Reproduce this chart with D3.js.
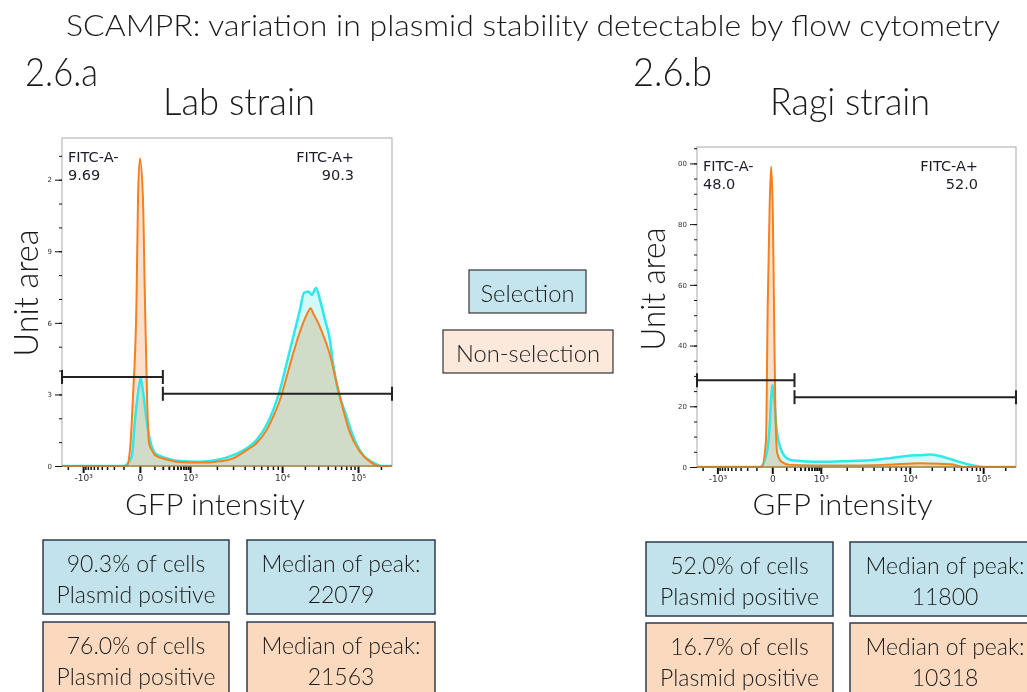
<!DOCTYPE html>
<html>
<head>
<meta charset="utf-8">
<script src="https://cdn.jsdelivr.net/npm/d3@7"></script>
<style>
  body { margin: 0; background: #fff; }
  svg { display: block; }
  .big { font-family: Lato, "Open Sans", sans-serif; font-weight: 300; fill: #1a1a1a; }
  .fitc { font-family: "DejaVu Sans", sans-serif; font-size: 14.5px; fill: #1b1b2a; }
  .axis text { font-family: "DejaVu Sans", sans-serif; font-size: 9px; fill: #333; }
  .axis path { display: none; }
  .axis line { stroke: #111; }
  .fill { mix-blend-mode: multiply; }
</style>
</head>
<body>
<svg id="fig" width="1027" height="692"></svg>
<script>
// ---- data ----
const panelIds = ['2.6.a', '2.6.b'];
const strainNames = ['Lab strain', 'Ragi strain'];
const gateNegPct = ['9.69', '48.0'];
const gatePosPct = ['90.3', '52.0'];
const selPositive = ['90.3%', '52.0%'];
const nonSelPositive = ['76.0%', '16.7%'];
const selMedian = ['22079', '11800'];
const nonSelMedian = ['21563', '10318'];
const gateSplit = 200;
const gateLevels = [[28.6, 23.2], [28.6, 23.0]];
const yTickVals = [[0, 23, 46, 69, 92], [0, 20, 40, 60, 80, 100]];
const yMinorStep = [23 / 3, 5];
const xMajorTicks = [-1000, 0, 1000, 10000, 100000];
const xTickLabels = ['-10³', '0', '10³', '10⁴', '10⁵'];

// [GFP intensity, unit area]
const labSel = [[-2600,0],[-101,0],[-41,3],[-23,14.8],[-6.3,24.4],[3.8,28.2],[17.1,23.5],[37.7,14.8],[61.4,8.4],[88.8,5.1],[106,4.1],[259,2.5],[480,1.7],[1297,1.4],[1990,1.9],[3015,3.5],[4201,5.7],[5374,8.4],[6863,13.2],[8063,18],[9490,24.4],[11495,33],[14058,41.6],[17231,50.2],[19440,55.6],[22190,56.1],[24560,55],[28020,57.2],[31600,53.4],[36800,47],[42750,40.5],[46940,33],[54600,24.4],[71000,15.9],[86780,9.4],[116300,3.5],[158000,1.1],[204500,0],[280000,0]];
const labNonSel = [[-2600,0],[-75,0],[-52,5.1],[-34,22.2],[-15,54.4],[-8,86.5],[0,98.8],[15.5,86.5],[27,54.4],[41,22.2],[54.5,7.4],[87,4.5],[106,3.5],[259,2.1],[480,1.4],[1297,1.1],[1990,1.4],[3015,2.5],[4201,5.1],[5374,7.4],[6863,11.6],[8063,15.9],[9490,21.2],[11495,28.7],[14058,36.3],[17231,43.2],[21114,48.6],[23826,50.7],[26000,48.8],[28600,47],[34940,42],[42750,35.7],[52380,26.7],[64000,18],[78430,10.6],[106100,4.6],[143500,1.4],[194400,0],[280000,0]];
const ragiSel = [[-2600,0],[-71,0],[-27.8,4.5],[-12.3,13.3],[-5.4,22],[2.1,27],[10.5,22],[24.3,12.2],[46.5,6.7],[87.6,3.4],[161,2.2],[293,2.0],[1069,1.7],[2175,2.0],[3970,2.3],[6066,2.9],[9272,3.6],[13800,3.9],[18900,4.1],[25880,3.6],[39250,2.3],[59740,1.0],[90600,0.1],[100000,0],[280000,0]];
const ragiNonSel = [[-2600,0],[-59,0],[-31.6,8.9],[-22.2,52.7],[-12.3,85.6],[-5.4,99],[2.1,85.6],[8.9,52.7],[16.1,19.8],[28,4.5],[59,1.7],[140,0.7],[1674,0.5],[5080,0.7],[7812,1.0],[13790,1.2],[25880,1.1],[38870,0.8],[48430,0.2],[60300,0],[280000,0]];

const selSeries = [labSel, ragiSel];
const nonSelSeries = [labNonSel, ragiNonSel];

// ---- layout ----
const frames = [
    { x0: 62, x1: 392, y0: 138, y1: 466, labelClip: 47, gfpY: 515 },
    { x0: 697, x1: 1016, y0: 147, y1: 467, labelClip: 678, gfpY: 515 }
];
// where the biexponential display puts the major decades (fraction of width)
const xTickFrac = [0.064, 0.236, 0.388, 0.667, 0.897];
const yTop = 105.4;

const svg = d3.select('#fig');

function bigText(x, y, size, str, anchor, len) {
    const t = svg.append('text').attr('class', 'big')
        .attr('x', x).attr('y', y)
        .attr('font-size', size)
        .attr('text-anchor', anchor || 'start')
        .text(str);
    if (len) t.attr('textLength', len).attr('lengthAdjust', 'spacingAndGlyphs');
    return t;
}

bigText(533, 36, 30, 'SCAMPR: variation in plasmid stability detectable by flow cytometry', 'middle', 934);

function buildPanel(i) {
    const fr = frames[i];
    const w = fr.x1 - fr.x0;
    const x = d3.scaleSymlog().constant(100)
        .domain(xMajorTicks)
        .range(xTickFrac.map(f => fr.x0 + f * w));
    const y = d3.scaleLinear().domain([0, yTop]).range([fr.y1, fr.y0]);

    const clipId = 'clip' + i;
    svg.append('clipPath').attr('id', clipId)
        .append('rect').attr('x', fr.x0).attr('y', fr.y0)
        .attr('width', w).attr('height', fr.y1 - fr.y0 + 1);
    const lblClip = 'lbl' + i;
    svg.append('clipPath').attr('id', lblClip)
        .append('rect').attr('x', fr.labelClip).attr('y', fr.y0 - 20)
        .attr('width', fr.x0 - fr.labelClip + 2).attr('height', fr.y1 - fr.y0 + 40);

    // frame
    svg.append('rect')
        .attr('x', fr.x0).attr('y', fr.y0)
        .attr('width', w).attr('height', fr.y1 - fr.y0)
        .attr('fill', 'none').attr('stroke', '#a8a8a8').attr('stroke-width', 1);

    // y axis (labels are cut off by the panel edge, as in the source)
    const minorY = d3.range(0, yTop, yMinorStep[i]);
    svg.append('g').attr('class', 'axis')
        .attr('transform', `translate(${fr.x0},0)`)
        .call(d3.axisLeft(y).tickValues(minorY).tickSize(3).tickFormat(''))
        .selectAll('text').remove();
    svg.append('g').attr('clip-path', `url(#${lblClip})`)
        .append('g').attr('class', 'axis')
        .attr('transform', `translate(${fr.x0},0)`)
        .call(d3.axisLeft(y).tickValues(yTickVals[i]).tickSize(7).tickPadding(3))
        .selectAll('text').style('font-size', '7px');

    // x axis
    const minorX = [];
    [1, 10, 100].forEach(m => d3.range(2, 10).forEach(k => minorX.push(k * 100 * m)));
    d3.range(1, 10).forEach(k => { minorX.push(k * 100); minorX.push(-k * 100); });
    minorX.push(-2000, 200000);
    const mx = svg.append('g').attr('class', 'axis')
        .attr('transform', `translate(0,${fr.y1})`)
        .call(d3.axisBottom(x).tickValues(minorX).tickSize(4).tickFormat(''));
    mx.selectAll('text').remove();
    mx.selectAll('line').attr('stroke-width', 1.5);
    svg.append('g').attr('class', 'axis')
        .attr('transform', `translate(0,${fr.y1})`)
        .call(d3.axisBottom(x).tickValues(xMajorTicks).tickSize(7).tickPadding(2)
            .tickFormat((d, k) => xTickLabels[k]))
        .selectAll('line').attr('stroke-width', 2);

    // histograms
    const area = d3.area().x(d => x(d[0])).y0(y(0)).y1(d => y(d[1])).curve(d3.curveMonotoneX);
    const line = d3.line().x(d => x(d[0])).y(d => y(d[1])).curve(d3.curveMonotoneX);
    const g = svg.append('g').attr('clip-path', `url(#${clipId})`).style('isolation', 'isolate');
    g.append('path').attr('class', 'fill').attr('d', area(nonSelSeries[i])).attr('fill', '#fde0cc');
    g.append('path').attr('class', 'fill').attr('d', area(selSeries[i])).attr('fill', '#d2fafa');
    g.append('path').attr('d', line(selSeries[i])).attr('fill', 'none')
        .attr('stroke', '#2ee9e9').attr('stroke-width', 2.5);
    g.append('path').attr('d', line(nonSelSeries[i])).attr('fill', 'none')
        .attr('stroke', '#f5801e').attr('stroke-width', 2);
    svg.append('line')
        .attr('x1', fr.x0).attr('x2', fr.x1).attr('y1', y(0)).attr('y2', y(0))
        .attr('stroke', '#a8843c').attr('stroke-width', 1.5);

    // gates
    const gx = x(gateSplit);
    const gates = [[fr.x0, gx, gateLevels[i][0]], [gx, fr.x1, gateLevels[i][1]]];
    gates.forEach(gt => {
        const gy = y(gt[2]);
        const gg = svg.append('g').attr('stroke', '#222').attr('stroke-width', 2);
        gg.append('line').attr('x1', gt[0]).attr('x2', gt[1]).attr('y1', gy).attr('y2', gy);
        gg.append('line').attr('x1', gt[0]).attr('x2', gt[0]).attr('y1', gy - 7).attr('y2', gy + 7);
        gg.append('line').attr('x1', gt[1]).attr('x2', gt[1]).attr('y1', gy - 7).attr('y2', gy + 7);
    });

    // gate labels
    svg.append('text').attr('class', 'fitc').attr('x', fr.x0 + 6).attr('y', fr.y0 + 24).text('FITC-A-');
    svg.append('text').attr('class', 'fitc').attr('x', fr.x0 + 6).attr('y', fr.y0 + 42).text(gateNegPct[i]);
    svg.append('text').attr('class', 'fitc').attr('x', fr.x1 - 38).attr('y', fr.y0 + 24)
        .attr('text-anchor', 'end').text('FITC-A+');
    svg.append('text').attr('class', 'fitc').attr('x', fr.x1 - 38).attr('y', fr.y0 + 42)
        .attr('text-anchor', 'end').text(gatePosPct[i]);

    bigText((fr.x0 + fr.x1) / 2 + (i ? -14 : -12), fr.gfpY, 30, 'GFP intensity', 'middle', 180);
}

buildPanel(0);
buildPanel(1);

// panel headings and axis titles
bigText(25, 86, 40, panelIds[0], 'start', 73);
bigText(633, 86, 40, panelIds[1], 'start', 79);
bigText(239, 115, 38, strainNames[0], 'middle', 152);
bigText(850, 115, 38, strainNames[1], 'middle', 160);
bigText(0, 0, 34, 'Unit area', 'middle', 127).attr('transform', 'translate(38,293) rotate(-90)');
bigText(0, 0, 34, 'Unit area', 'middle', 123).attr('transform', 'translate(665,289) rotate(-90)');

// legend
const legend = [
    { label: 'Selection', x: 469, y: 270, w: 117, fill: '#c5e5ee', tl: 94 },
    { label: 'Non-selection', x: 443, y: 330, w: 170, fill: '#fde9dc', tl: 144 }
];
legend.forEach(l => {
    svg.append('rect').attr('x', l.x).attr('y', l.y).attr('width', l.w).attr('height', 43)
        .attr('fill', l.fill).attr('stroke', '#333').attr('stroke-width', 1.2);
    bigText(l.x + l.w / 2, l.y + 32, 23, l.label, 'middle', l.tl);
});

// summary boxes
const boxCols = [[43, 247], [646, 850]];
const boxW = [[186, 188], [187, 190]];
const boxTop = [[540, 622], [542, 623]];
const blueFill = '#c3e3ec', peachFill = '#fbd9be';
[0, 1].forEach(i => {
    const rows = [
        { fill: blueFill, a: [selPositive[i] + ' of cells', 'Plasmid positive'], b: ['Median of peak:', selMedian[i]] },
        { fill: peachFill, a: [nonSelPositive[i] + ' of cells', 'Plasmid positive'], b: ['Median of peak:', nonSelMedian[i]] }
    ];
    rows.forEach((r, ri) => {
        const top = boxTop[i][ri];
        [r.a, r.b].forEach((lines, ci) => {
            const bx = boxCols[i][ci], bw = boxW[i][ci];
            svg.append('rect').attr('x', bx).attr('y', top).attr('width', bw).attr('height', ri ? 80 : 74)
                .attr('fill', r.fill).attr('stroke', '#2e3b52').attr('stroke-width', 1.5);
            lines.forEach((s, li) => {
                bigText(bx + bw / 2, top + 32 + li * 31, 23, s, 'middle');
            });
        });
    });
});
</script>
</body>
</html>
